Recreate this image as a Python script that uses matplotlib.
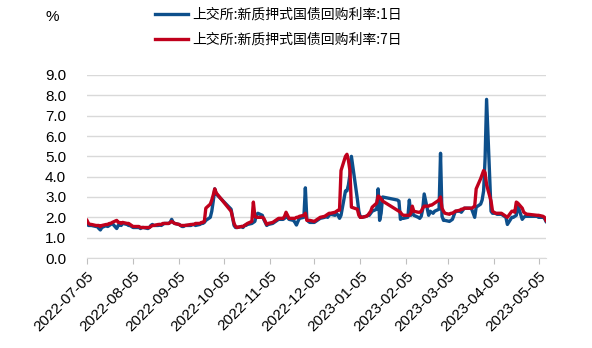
import numpy as np
import pandas as pd
import matplotlib
matplotlib.use("Agg")
import matplotlib.pyplot as plt

plt.rcParams['font.family'] = ['Liberation Sans', 'DejaVu Sans']

# trading days (SSE), holidays removed
holidays = pd.to_datetime(["2022-09-12", "2022-10-03", "2022-10-04", "2022-10-05",
                           "2022-10-06", "2022-10-07", "2023-01-02", "2023-01-23",
                           "2023-01-24", "2023-01-25", "2023-01-26", "2023-01-27",
                           "2023-04-05", "2023-05-01", "2023-05-02", "2023-05-03"])
dates = pd.bdate_range("2022-07-05", "2023-05-10")
dates = dates[~dates.isin(holidays)]

rate_1d = [
    # Jul
    1.75, 1.6, 1.6, 1.6, 1.55, 1.55, 1.45, 1.38, 1.5, 1.6, 1.55, 1.6, 1.65, 1.7, 1.45, 1.6, 1.65, 1.6, 1.7,
    # Aug
    1.65, 1.6, 1.6, 1.55, 1.5, 1.5, 1.5, 1.45, 1.5, 1.5, 1.45, 1.5, 1.6, 1.65, 1.6,
    1.6, 1.65, 1.6, 1.65, 1.7, 1.7, 1.75, 1.9,
    # Sep
    1.75, 1.7, 1.65, 1.6, 1.55, 1.55, 1.6, 1.6, 1.65, 1.65, 1.6,
    1.65, 1.7, 1.7, 1.75, 1.85, 2.0, 2.3, 2.8, 3.4, 3.15,
    # Oct
    2.4, 2.0, 1.6, 1.5, 1.5, 1.55, 1.5, 1.6, 1.6, 1.65, 1.7, 1.75, 1.8, 2.1, 2.2, 2.1,
    # Nov
    1.9, 1.75, 1.6, 1.65, 1.7, 1.75, 1.8, 1.85, 1.9, 1.9, 1.95, 2.05, 2.0, 1.9,
    1.85, 1.75, 1.62, 1.8, 1.95, 2.0, 3.45, 1.9,
    # Dec
    1.8, 1.75, 1.75, 1.8, 1.85, 1.9, 1.95, 2.0, 2.05, 2.0, 2.1, 2.15,
    2.1, 2.2, 2.1, 1.95, 2.1, 3.3, 3.3, 3.6, 4.1, 5.0,
    # Jan
    2.9, 2.3, 2.0, 2.0, 2.05, 2.1, 2.1, 2.2, 2.3, 2.4, 3.4, 1.85, 2.2, 3.0, 2.85, 2.8,
    # Feb
    1.9, 1.95, 1.95, 2.0, 2.85, 2.1, 2.25, 2.1, 2.0, 1.95, 2.05, 2.4, 3.15,
    2.1, 2.3, 2.25, 2.2, 2.3, 2.4, 5.15,
    # Mar
    2.05, 1.85, 1.85, 1.8, 1.85, 1.9, 2.1, 2.3, 2.3, 2.25, 2.35, 2.45, 2.45,
    2.45, 2.4, 2.2, 2.0, 2.5, 2.65, 2.85, 3.3, 4.9, 7.8,
    # Apr
    2.3, 2.2, 2.2, 2.15, 2.15, 2.1, 2.05, 2.0, 1.65, 2.0, 2.0, 2.05, 2.1, 2.6,
    1.9, 2.0, 2.05, 2.05, 2.05,
    # May
    2.05, 2.0, 2.0, 1.95, 1.8,
]

rate_7d = [
    # Jul
    1.85, 1.7, 1.65, 1.65, 1.6, 1.6, 1.6, 1.55, 1.6, 1.65, 1.65, 1.7, 1.7, 1.75, 1.85, 1.75, 1.75, 1.7, 1.75,
    # Aug
    1.7, 1.7, 1.65, 1.6, 1.55, 1.55, 1.55, 1.5, 1.5, 1.5, 1.5, 1.5, 1.55, 1.6, 1.6,
    1.65, 1.65, 1.65, 1.7, 1.7, 1.7, 1.75, 1.8,
    # Sep
    1.75, 1.7, 1.65, 1.6, 1.6, 1.6, 1.6, 1.65, 1.65, 1.65, 1.7,
    1.7, 1.75, 1.75, 1.8, 2.45, 2.65, 2.85, 3.1, 3.4, 3.2,
    # Oct
    2.3, 2.0, 1.7, 1.55, 1.5, 1.55, 1.55, 1.6, 1.65, 1.7, 1.8, 2.75, 2.05, 2.0, 2.0, 2.0,
    # Nov
    1.95, 1.8, 1.65, 1.7, 1.75, 1.8, 1.85, 1.9, 1.95, 1.95, 2.05, 2.25, 2.1, 1.95,
    1.95, 1.95, 2.0, 2.0, 2.05, 2.1, 2.2, 1.85,
    # Dec
    1.85, 1.85, 1.8, 1.85, 1.9, 1.95, 2.0, 2.05, 2.1, 2.15, 2.2, 2.2,
    2.25, 2.3, 2.35, 2.35, 4.3, 5.0, 5.1, 4.8, 4.3, 2.5,
    # Jan
    2.4, 2.1, 2.0, 2.0, 2.05, 2.1, 2.2, 2.3, 2.5, 2.7, 3.05, 3.0, 2.9, 2.8, 2.35, 2.3,
    # Feb
    2.25, 2.15, 2.1, 2.1, 2.1, 2.2, 2.55, 2.3, 2.25, 2.25, 2.3, 2.45, 2.55,
    2.55, 2.6, 2.6, 2.65, 2.7, 2.85, 3.0,
    # Mar
    2.45, 2.3, 2.2, 2.15, 2.2, 2.2, 2.25, 2.3, 2.35, 2.4, 2.4, 2.45, 2.45,
    2.45, 2.45, 2.5, 2.55, 3.4, 3.9, 4.1, 4.3, 4.2, 3.6,
    # Apr
    2.8, 2.3, 2.2, 2.2, 2.2, 2.15, 2.1, 2.05, 2.0, 2.3, 2.3, 2.25, 2.75, 2.7,
    2.45, 2.25, 2.2, 2.15, 2.15,
    # May
    2.1, 2.1, 2.05, 2.0, 1.85,
]

labels = ["上交所:新质押式国债回购利率:1日", "上交所:新质押式国债回购利率:7日"]
tick_dates = pd.date_range("2022-07-01", "2023-05-01", freq="MS") + pd.Timedelta(days=4)
assert len(dates) == len(rate_1d) == len(rate_7d), (len(dates), len(rate_1d), len(rate_7d))

fig = plt.figure(figsize=(5.92, 3.48), dpi=100)
ax = fig.add_axes([87 / 592, 1 - 258 / 348, (546 - 87) / 592, (258 - 75) / 348])

l1, = ax.plot(dates, rate_1d, color="#0d4f8b", lw=2.4, solid_joinstyle="round")
l2, = ax.plot(dates, rate_7d, color="#c0001c", lw=2.4, solid_joinstyle="round")

yt = np.arange(0, 9.5, 1.0)
ax.set_ylim(0, 9)
ax.set_yticks(yt)
ax.set_yticklabels([f"{v:.1f}" for v in yt], fontsize=11)
ax.set_xlim(pd.Timestamp("2022-07-05"), pd.Timestamp("2023-05-10"))
ax.set_xticks(tick_dates)
ax.set_xticklabels([d.strftime("%Y-%m-%d") for d in tick_dates], rotation=45,
                   ha="right", rotation_mode="anchor", fontsize=11)
ax.tick_params(axis="y", length=0, pad=15)
ax.tick_params(axis="x", length=4, color="#bfbfbf", pad=4)
ax.grid(axis="y", color="#d9d9d9", lw=1)
ax.set_axisbelow(True)
for s in ["top", "right", "left"]:
    ax.spines[s].set_visible(False)
ax.spines["bottom"].set_color("#d9d9d9")

fig.text(45 / 592, 1 - 17 / 348, "%", fontsize=11, va="center")

fig.legend([l1, l2], labels, loc="upper left", bbox_to_anchor=(155 / 592, 1 - 8 / 348),
           frameon=False, handlelength=2.4, handletextpad=0.3, labelspacing=0.75,
           borderpad=0, borderaxespad=0,
           prop={"family": ["Noto Sans CJK SC", "DejaVu Sans"], "size": 10})

fig.savefig("out.png", dpi=100)
